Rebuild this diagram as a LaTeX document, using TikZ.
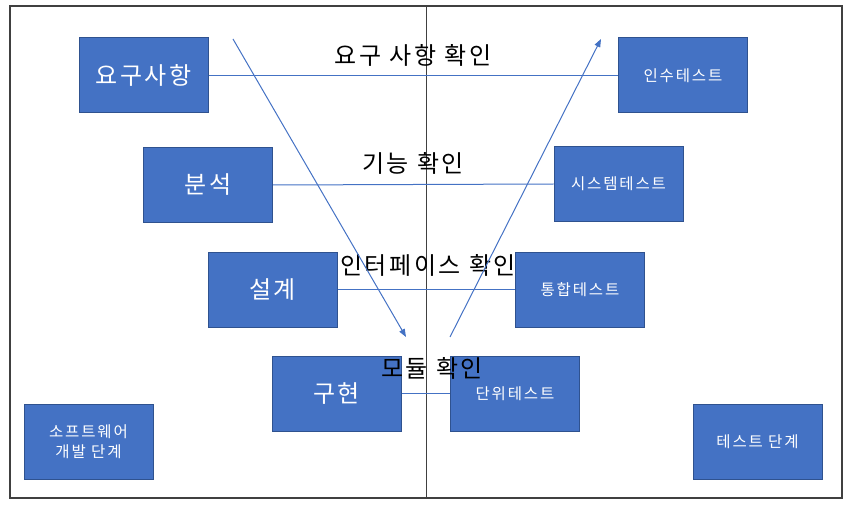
\documentclass[tikz,border=0pt]{standalone}
\usepackage{fontspec}
\setmainfont{Noto Sans CJK KR}
\newfontfamily\stagefont[LetterSpace=10]{Noto Sans CJK KR}
\newfontfamily\smallfont[LetterSpace=12]{Noto Sans CJK KR}
\newfontfamily\checkfont[LetterSpace=11]{Noto Sans CJK KR}
\usepackage{tikz}
\usetikzlibrary{arrows.meta}

\definecolor{boxblue}{HTML}{4472C4}
\definecolor{boxedge}{HTML}{2F528F}
\definecolor{framegray}{HTML}{404040}

\tikzset{
  stage/.style={draw=boxedge,fill=boxblue,text=white,line width=1pt,
    minimum width=129pt,minimum height=75pt,inner sep=0pt,font=\stagefont\fontsize{24}{27}\selectfont},
  teststage/.style={stage,font=\smallfont\fontsize{15.5}{20}\selectfont,align=center},
  link/.style={draw=boxblue,line width=1pt},
  flow/.style={link,-{Triangle[length=8pt,width=6pt]}},
  check/.style={text=black,inner sep=0pt,font=\checkfont\fontsize{24}{27}\selectfont}
}

\begin{document}
\begin{tikzpicture}[x=1pt,y=-1pt]
                \useasboundingbox (0,0) rectangle (852,508);
                \draw [framegray,line width=1.3pt] (10,6) rectangle (842,498);
                \draw [framegray,line width=1pt] (426,6) -- (426,498);
                % development side
                \node [stage] (req) at (143.5,75.5) {요구사항};
                \node [stage] (ana) at (208,185) {분석};
                \node [stage] (des) at (272.5,289.5) {설계};
                \node [stage] (impl) at (336.5,393.5) {구현};
                % test side
                \node [teststage] (acc) at (683,75.5) {인수테스트};
                \node [teststage] (sys) at (618.5,184) {시스템테스트};
                \node [teststage] (integ) at (580,289.5) {통합테스트};
                \node [teststage] (unit) at (515,393.5) {단위테스트};
                % legends
                \node [teststage] (dev) at (88.5,442) {소프트웨어\\개발 단계};
                \node [teststage] (tst) at (757.5,442) {테스트 단계};
                % checks
                \draw [link] (req) -- (acc);
                \draw [link] (ana.east) -- (sys.west);
                \draw [link] (des) -- (integ);
                \draw [link] (impl) -- (unit);
                \node [check] (lreq) at (413,55) {요구 사항 확인};
                \node [check] (lana) at (413,163) {기능 확인};
                \node [check] (ldes) at (428,265) {인터페이스 확인};
                \node [check] (limpl) at (432,368) {모듈 확인};
                % V arrows
                \coordinate (dtop) at (233,39);
                \coordinate (dbot) at (406,337);
                \coordinate (ubot) at (450,337);
                \coordinate (utop) at (601,39);
                \draw [flow] (dtop) -- (dbot);
                \draw [flow] (ubot) -- (utop);
\end{tikzpicture}
\end{document}
